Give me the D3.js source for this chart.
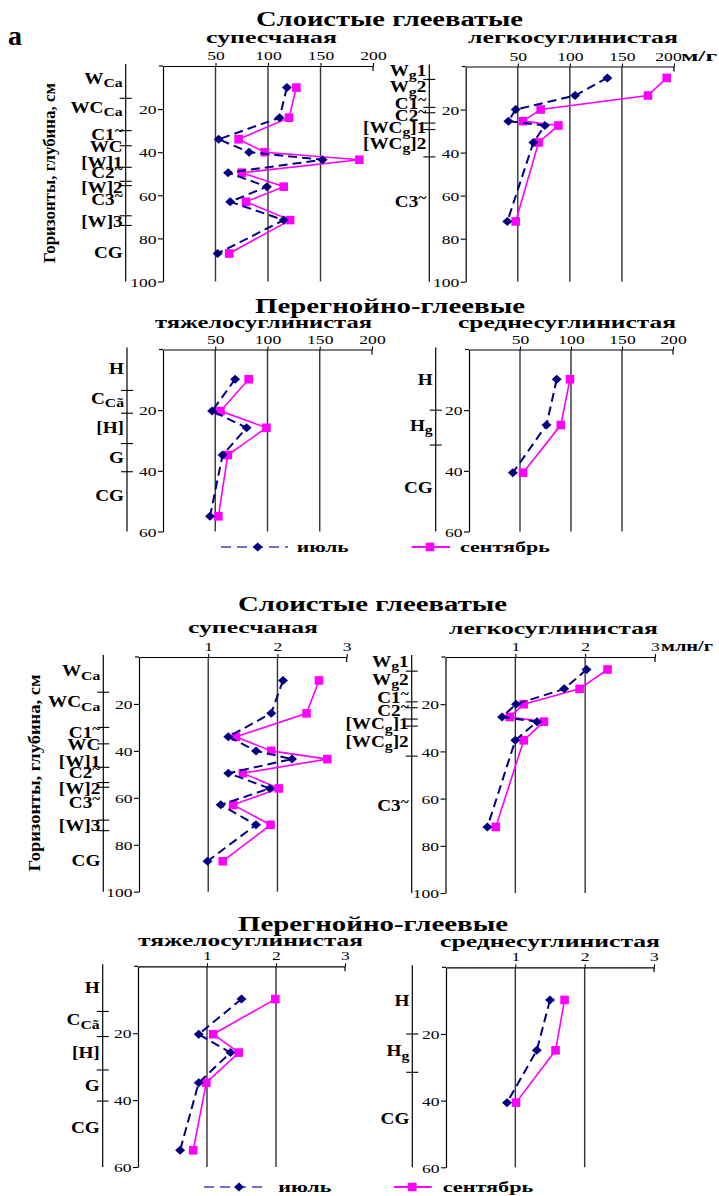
<!DOCTYPE html>
<html><head><meta charset="utf-8">
<script src="https://cdn.jsdelivr.net/npm/d3@7"></script>
<style>body{margin:0;background:#fff}</style>
</head><body>
<svg id="c" width="719" height="1196"></svg>
<script>
// ---------------- DATA ----------------
// depths (cm) of sampling points
const depthSup   = [10, 24, 34, 40, 43.5, 49.5, 56, 63, 71.5, 87];
const depthLeg   = [5.3, 13.5, 20, 25.4, 27.4, 35.3, 72];
const depthTyazh = [9.8, 20.3, 25.8, 34.8, 55];
const depthSred  = [9.8, 24.9, 40.6];

// biomass, m/g (upper block)
const supJulyM   = [118, 111, 53, 82, 152, 62, 99, 64, 115, 52];
const supSeptM   = [127, 120, 72, 97, 187, 75, 115, 79, 121, 63];
const legJulyM   = [136, 105, 48, 41, 76, 65, 40];
const legSeptM   = [193, 175, 72, 55, 89, 70, 48];
const tyazhJulyM = [69, 47, 80, 57, 45];
const tyazhSeptM = [82, 55, 99, 62, 53];
const sredJulyM  = [86, 76, 43];
const sredSeptM  = [99, 90, 53];

// number, mln/g (lower block)
const supJulyN   = [2.08, 1.91, 1.29, 1.69, 2.21, 1.29, 1.89, 1.18, 1.69, 0.99];
const supSeptN   = [2.6, 2.42, 1.4, 1.91, 2.72, 1.5, 2.02, 1.36, 1.9, 1.21];
const legJulyN   = [2.02, 1.7, 1.01, 0.81, 1.31, 1.0, 0.6];
const legSeptN   = [2.32, 1.92, 1.12, 0.92, 1.41, 1.12, 0.72];
const tyazhJulyN = [1.5, 0.88, 1.34, 0.88, 0.61];
const tyazhSeptN = [1.99, 1.09, 1.46, 0.99, 0.8];
const sredJulyN  = [1.5, 1.31, 0.88];
const sredSeptN  = [1.71, 1.58, 1.01];

// tick values / labels
const xTicksM = [50, 100, 150, 200];
const xTicksN = [1, 2, 3];
const yTicks100 = [20, 40, 60, 80, 100];
const yTicks60  = [20, 40, 60];

// soil horizons: labels, label depths, boundary depths
const supHorLabels = ["W_{Ca}", "WC_{Ca}", "C1^{~}", "WC", "[W]1", "C2^{~}", "[W]2", "C3^{~}", "[W]3", "CG"];
const supHorDepth  = [6, 19.3, 32.2, 37.5, 44.8, 49.5, 56.4, 62.1, 72.2, 86.8];
const supHorBounds = [15, 30, 37, 47, 53.5, 55.5, 69.5, 74];

const legHorLabels = ["W_{g}1", "W_{g}2", "C1^{~}", "C2^{~}", "[WC_{g}]1", "[WC_{g}]2", "C3^{~}"];
const legHorDepth  = [2, 9.6, 17.2, 22.8, 28.5, 36, 63];
const legHorBounds = [6, 19, 21.5, 26.3, 29.3, 42];

const tyazhHorLabels = ["H", "C_{Cã}", "[H]", "G", "CG"];
const tyazhHorDepth  = [6.5, 16.2, 26, 35.8, 48.4];
const tyazhHorBounds = [13.5, 21, 31, 40.3];

const sredHorLabels = ["H", "H_{g}", "CG"];
const sredHorDepth  = [10, 25.2, 45.6];
const sredHorBounds = [20, 31.5];

const seriesNames = ["июль", "сентябрь"];
const blockTitles = ["Слоистые глееватые", "Перегнойно-глеевые"];
const soilNames = ["супесчаная", "легкосуглинистая", "тяжелосуглинистая", "среднесуглинистая"];
const yTitle = "Горизонты, глубина, см";

// ---------------- DRAWING ----------------
const svg = d3.select('#c');
const FONT = '"Liberation Serif", "Times New Roman", serif';
const NAVY = '#000080', MAG = '#ff00ff';

function stext(parent, x, y, str, o) {
  o = Object.assign({size: 13, weight: 'normal', anchor: 'middle', sx: 1, len: null, rotate: 0}, o);
  const g = parent.append('g').attr('transform',
    `translate(${x},${y})` + (o.rotate ? ` rotate(${o.rotate})` : '') + ` scale(${o.sx},1)`);
  const t = g.append('text').attr('text-anchor', o.anchor).attr('font-family', FONT)
    .attr('font-size', o.size).attr('font-weight', o.weight).attr('fill', '#000');
  if (o.len) t.attr('textLength', o.len).attr('lengthAdjust', 'spacingAndGlyphs');
  const re = /_\{([^}]*)\}|\^\{([^}]*)\}|([^_^]+)/g;
  let m, shift = 0;
  while ((m = re.exec(str))) {
    if (m[1] !== undefined) { t.append('tspan').attr('font-size', o.size * 0.82).attr('dy', 3.5 - shift).text(m[1]); shift = 3.5; }
    else if (m[2] !== undefined) { t.append('tspan').attr('font-size', o.size * 0.8).attr('dy', -5 - shift).text(m[2]); shift = -5; }
    else { t.append('tspan').attr('dy', -shift).text(m[3]); shift = 0; }
  }
  return t;
}

const panels = [
  {x0:163, x1:373, y0:66, y1:281.5, xmax:200, ymax:100, xt:xTicksM, yt:yTicks100, hx:125.7,
   hl:supHorLabels, hd:supHorDepth, hb:supHorBounds, depth:depthSup, july:supJulyM, sept:supSeptM},
  {x0:465.7, x1:674, y0:66.5, y1:281.7, xmax:200, ymax:100, xt:xTicksM, yt:yTicks100, hx:429.3,
   hl:legHorLabels, hd:legHorDepth, hb:legHorBounds, depth:depthLeg, july:legJulyM, sept:legSeptM, unit:"м/г", unitX:681, unitLen:36, lastShift:-6},
  {x0:163, x1:372, y0:349.5, y1:531.5, xmax:200, ymax:60, xt:xTicksM, yt:yTicks60, hx:127,
   hl:tyazhHorLabels, hd:tyazhHorDepth, hb:tyazhHorBounds, depth:depthTyazh, july:tyazhJulyM, sept:tyazhSeptM},
  {x0:469, x1:673, y0:349.5, y1:531.5, xmax:200, ymax:60, xt:xTicksM, yt:yTicks60, hx:435.7,
   hl:sredHorLabels, hd:sredHorDepth, hb:sredHorBounds, depth:depthSred, july:sredJulyM, sept:sredSeptM},
  {x0:139, x1:346.7, y0:657, y1:891.7, xmax:3, ymax:100, xt:xTicksN, yt:yTicks100, hx:103.3,
   hl:supHorLabels, hd:supHorDepth, hb:supHorBounds, depth:depthSup, july:supJulyN, sept:supSeptN},
  {x0:445.5, x1:655, y0:657, y1:893, xmax:3, ymax:100, xt:xTicksN, yt:yTicks100, hx:411.7,
   hl:legHorLabels, hd:legHorDepth, hb:legHorBounds, depth:depthLeg, july:legJulyN, sept:legSeptN, unit:"млн/г", unitX:661, unitLen:52},
  {x0:138, x1:345, y0:966.3, y1:1167, xmax:3, ymax:60, xt:xTicksN, yt:yTicks60, hx:102.7,
   hl:tyazhHorLabels, hd:tyazhHorDepth, hb:tyazhHorBounds, depth:depthTyazh, july:tyazhJulyN, sept:tyazhSeptN},
  {x0:446, x1:654, y0:967.3, y1:1167.3, xmax:3, ymax:60, xt:xTicksN, yt:yTicks60, hx:412.3,
   hl:sredHorLabels, hd:sredHorDepth, hb:sredHorBounds, depth:depthSred, july:sredJulyN, sept:sredSeptN}
];

const diamond = "M0,-4.5L5,0L0,4.5L-5,0Z";

function drawPanel(p) {
  const x = d3.scaleLinear().domain([0, p.xmax]).range([p.x0, p.x1]);
  const y = d3.scaleLinear().domain([0, p.ymax]).range([p.y0, p.y1]);
  const g = svg.append('g');

  // vertical gridlines
  g.selectAll('line.grid').data(p.xt.slice(0, -1)).join('line').attr('class', 'grid')
    .attr('x1', d => x(d)).attr('x2', d => x(d)).attr('y1', p.y0).attr('y2', p.y1)
    .attr('stroke', '#333').attr('stroke-width', 1.4);

  // top axis
  const top = g.append('g').attr('transform', `translate(0,${p.y0})`)
    .call(d3.axisTop(x).tickValues(p.xt).tickSizeInner(3).tickSizeOuter(0).tickPadding(3)
      .tickFormat(d => String(d)));
  top.select('.domain').attr('stroke-width', 1.2);
  top.selectAll('.tick line').attr('stroke-width', 1.1);
  top.selectAll('.tick text').attr('font-family', FONT).attr('font-size', 13.5).attr('fill', '#000')
    .attr('transform', 'scale(1.3,1)');
  if (p.lastShift) top.selectAll('.tick text').filter((d, i, n) => i === n.length - 1).attr('x', p.lastShift / 1.3);
  g.append('line').attr('x1', p.x1).attr('x2', p.x1).attr('y1', p.y0).attr('y2', p.y0 + 5)
    .attr('stroke', '#000').attr('stroke-width', 1.2);
  g.append('line').attr('x1', p.x0 - 4).attr('x2', p.x0).attr('y1', p.y0).attr('y2', p.y0)
    .attr('stroke', '#000').attr('stroke-width', 1.2);
  if (p.unit) stext(g, p.unitX, p.y0 - 6, p.unit, {size: 14, weight: 'bold', anchor: 'start', len: p.unitLen});

  // left (depth) axis
  const left = g.append('g').attr('transform', `translate(${p.x0},0)`)
    .call(d3.axisLeft(y).tickValues(p.yt).tickSizeInner(5).tickSizeOuter(0).tickPadding(3)
      .tickFormat(d => String(d)));
  left.select('.domain').attr('stroke-width', 1.2);
  left.selectAll('.tick line').attr('stroke-width', 1.1);
  left.selectAll('.tick text').attr('font-family', FONT).attr('font-size', 13.5).attr('fill', '#000')
    .attr('x', -5).attr('dy', '0.35em').attr('transform', 'scale(1.3,1)');

  // horizon axis
  g.append('line').attr('x1', p.hx).attr('x2', p.hx).attr('y1', p.y0 - 2).attr('y2', p.y1)
    .attr('stroke', '#000').attr('stroke-width', 1.2);
  g.selectAll('line.hb').data(p.hb).join('line').attr('class', 'hb')
    .attr('x1', p.hx - 6).attr('x2', p.hx + 6).attr('y1', d => y(d)).attr('y2', d => y(d))
    .attr('stroke', '#000').attr('stroke-width', 1.1);
  p.hl.forEach((lab, i) => {
    stext(g, p.hx - 3, y(p.hd[i]) + 5, lab, {size: 16, weight: 'bold', anchor: 'end', sx: 1.2});
  });

  // series
  const sept = p.depth.map((d, i) => ({d, v: p.sept[i]}));
  const july = p.depth.map((d, i) => ({d, v: p.july[i]}));
  const line = d3.line().x(d => x(d.v)).y(d => y(d.d));
  g.append('path').datum(sept).attr('d', line).attr('fill', 'none').attr('stroke', MAG).attr('stroke-width', 1.6);
  g.selectAll('rect.s').data(sept).join('rect').attr('class', 's')
    .attr('x', d => x(d.v) - 4.3).attr('y', d => y(d.d) - 4.3).attr('width', 8.6).attr('height', 8.6).attr('fill', MAG);
  g.append('path').datum(july).attr('d', line).attr('fill', 'none').attr('stroke', NAVY)
    .attr('stroke-width', 2).attr('stroke-dasharray', '9,5');
  g.selectAll('path.j').data(july).join('path').attr('class', 'j')
    .attr('d', diamond).attr('transform', d => `translate(${x(d.v)},${y(d.d)})`).attr('fill', NAVY);
}

panels.forEach(drawPanel);

// titles
const titles = svg.append('g');
stext(titles, 8, 45, "а", {size: 28, weight: 'bold', anchor: 'start'});
stext(titles, 256, 26, blockTitles[0], {size: 20, weight: 'bold', anchor: 'start', len: 267});
stext(titles, 206, 43, soilNames[0], {size: 16, weight: 'bold', anchor: 'start', len: 131});
stext(titles, 468, 43, soilNames[1], {size: 16, weight: 'bold', anchor: 'start', len: 210});
stext(titles, 255, 313, blockTitles[1], {size: 20, weight: 'bold', anchor: 'start', len: 270});
stext(titles, 155, 327.5, soilNames[2], {size: 16, weight: 'bold', anchor: 'start', len: 217});
stext(titles, 458, 328, soilNames[3], {size: 16, weight: 'bold', anchor: 'start', len: 218});
stext(titles, 238, 611, blockTitles[0], {size: 20, weight: 'bold', anchor: 'start', len: 269});
stext(titles, 188, 633, soilNames[0], {size: 16, weight: 'bold', anchor: 'start', len: 130});
stext(titles, 449, 634, soilNames[1], {size: 16, weight: 'bold', anchor: 'start', len: 209});
stext(titles, 238, 930.5, blockTitles[1], {size: 20, weight: 'bold', anchor: 'start', len: 270});
stext(titles, 138, 946, soilNames[2], {size: 16, weight: 'bold', anchor: 'start', len: 225});
stext(titles, 440, 947, soilNames[3], {size: 16, weight: 'bold', anchor: 'start', len: 220});

// y titles
stext(titles, 55, 173, yTitle, {size: 17, weight: 'bold', anchor: 'middle', rotate: -90, len: 180});
stext(titles, 40, 773, yTitle, {size: 17, weight: 'bold', anchor: 'middle', rotate: -90, len: 197});

// legends
function legend(yl, jx0, jx1, jm, jt, jlen, sx0, sx1, sm, st, slen) {
  const g = svg.append('g');
  g.append('line').attr('x1', jx0).attr('x2', jx1).attr('y1', yl).attr('y2', yl)
    .attr('stroke', '#6f6fc8').attr('stroke-width', 2).attr('stroke-dasharray', '10,6');
  g.append('path').attr('d', diamond).attr('transform', `translate(${jm},${yl})`).attr('fill', NAVY);
  stext(g, jt, yl + 5, seriesNames[0], {size: 15, weight: 'bold', anchor: 'start', len: jlen});
  g.append('line').attr('x1', sx0).attr('x2', sx1).attr('y1', yl).attr('y2', yl)
    .attr('stroke', MAG).attr('stroke-width', 2);
  g.append('rect').attr('x', sm - 4.3).attr('y', yl - 4.3).attr('width', 8.6).attr('height', 8.6).attr('fill', MAG);
  stext(g, st, yl + 5, seriesNames[1], {size: 15, weight: 'bold', anchor: 'start', len: slen});
}
legend(547, 221, 288, 257.7, 296.7, 52, 411.7, 450, 430, 460, 90);
legend(1187, 204, 266.7, 239, 278.3, 53, 394, 431.7, 412.3, 442.7, 90.6);
</script>
</body></html>
